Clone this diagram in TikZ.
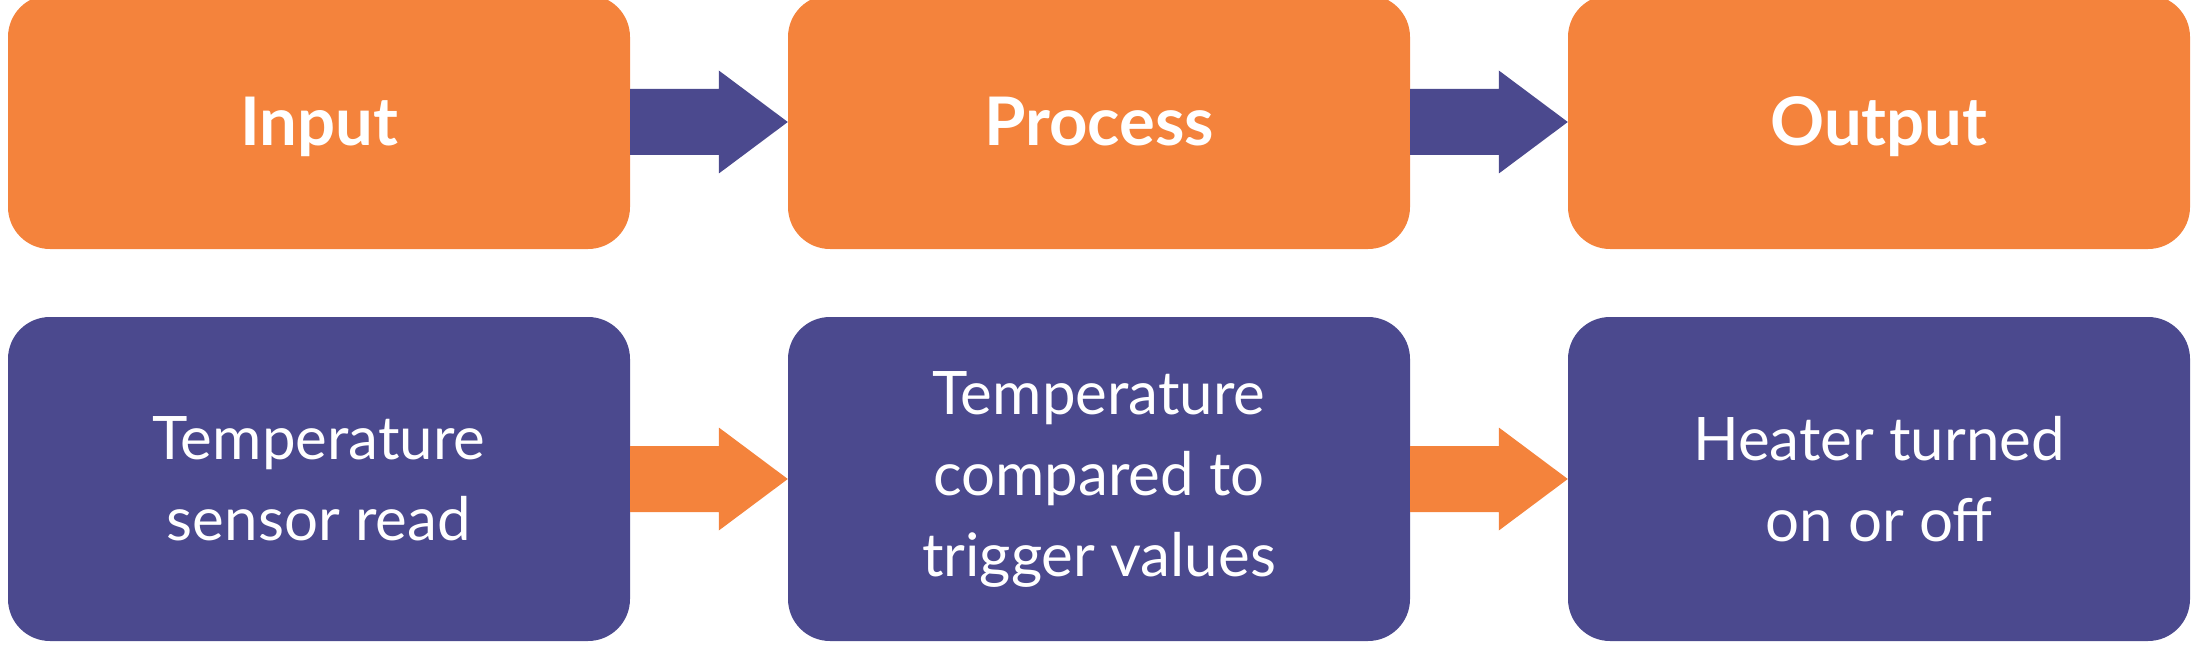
\documentclass[tikz,border=0pt]{standalone}
\usepackage{fontspec}
\setmainfont{Lato}
\usetikzlibrary{calc}
\definecolor{boxorange}{RGB}{244,131,60}
\definecolor{boxpurple}{RGB}{75,73,142}
\newcommand{\fatarrow}[3]{%
  \fill[#3] ($(#1.east)+(0,-33)$) -- ($(#2.west)+(-69,-33)$) -- ($(#2.west)+(-69,-51.5)$)
    -- (#2.west) -- ($(#2.west)+(-69,51.5)$) -- ($(#2.west)+(-69,33)$) -- ($(#1.east)+(0,33)$) -- cycle;}
\begin{document}
\begin{tikzpicture}[x=1pt,y=-1pt,
  topbox/.style={fill=boxorange, draw=none, rounded corners=42pt, minimum width=622pt,
    minimum height=254pt, inner sep=0pt, text=white, text height=48pt, text depth=0pt,
    font=\fontsize{67}{80}\selectfont\bfseries},
  botbox/.style={fill=boxpurple, draw=none, rounded corners=42pt, minimum width=622pt,
    minimum height=324pt, inner sep=0pt, text=white, align=center,
    font=\fontsize{60}{81}\selectfont}]
\useasboundingbox (0,0) rectangle (2194,647);
\node[topbox] (in)  at (319,122) {Input};
\node[topbox] (pr)  at (1099,122) {Process};
\node[topbox] (out) at (1879,122) {Output};
\node[botbox] (tin)  at (319,479) {Temperature\\sensor read};
\node[botbox] (tpr)  at (1099,479) {Temperature\\compared to\\trigger values};
\node[botbox] (tout) at (1879,479) {Heater turned\\on or off};
\fatarrow{in}{pr}{boxpurple}
\fatarrow{pr}{out}{boxpurple}
\fatarrow{tin}{tpr}{boxorange}
\fatarrow{tpr}{tout}{boxorange}
\end{tikzpicture}
\end{document}
